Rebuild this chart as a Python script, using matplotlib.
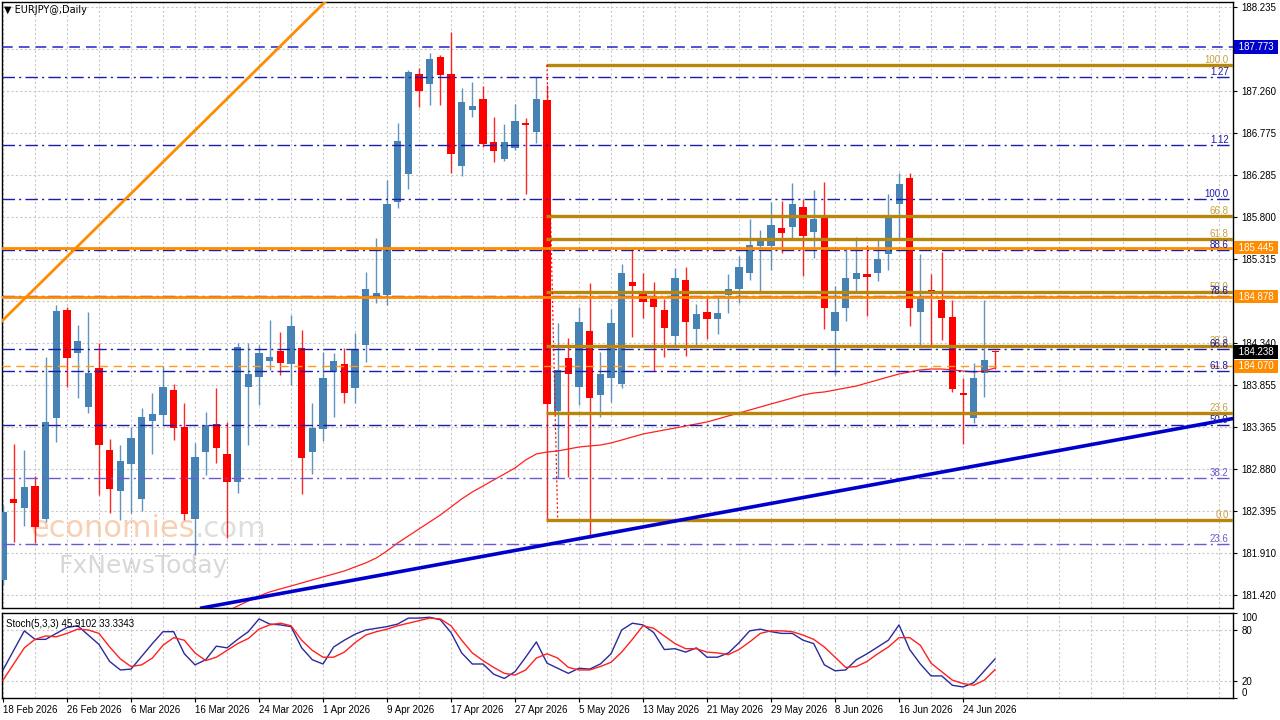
import matplotlib
matplotlib.use("Agg")
import matplotlib.pyplot as plt
import matplotlib.transforms as mtransforms
import numpy as np
import pandas as pd

plt.rcParams['font.family'] = ['Liberation Sans', 'DejaVu Sans']

# daily bars, 18 Feb 2026 .. 29 Jun 2026
dates = pd.bdate_range('2026-02-18', '2026-06-29')

opens = [181.594, 182.533, 182.428, 182.683, 182.301, 183.471, 184.723, 184.225, 183.599, 184.051,
         183.100, 182.625, 182.938, 182.533, 183.437, 183.506, 183.796, 183.367, 182.301, 183.077,
         183.402, 183.054, 182.730, 183.831, 183.947, 184.132, 184.248, 184.097, 184.283, 183.077,
         183.344, 184.005, 184.097, 183.819, 184.317, 184.885, 184.897, 185.975, 186.299, 187.458,
         187.342, 187.655, 187.458, 186.392, 187.041, 187.169, 186.670, 186.473, 186.601, 186.890,
         186.786, 187.157, 183.553, 184.167, 183.831, 184.480, 183.738, 183.935, 183.865, 185.048,
         184.909, 184.862, 184.723, 184.422, 185.071, 184.503, 184.700, 184.619, 184.897, 184.966,
         185.152, 185.465, 185.465, 185.673, 185.685, 185.917, 185.627, 185.801, 184.480, 184.746,
         185.082, 185.140, 185.152, 185.372, 185.952, 186.253, 184.700, 184.955, 184.839, 184.642,
         183.761, 183.471, 183.993, 184.248]
highs = [182.463, 183.170, 183.100, 182.799, 184.178, 184.781, 184.758, 184.549, 184.700, 184.341,
         183.228, 183.158, 183.367, 183.587, 183.761, 184.074, 183.865, 183.645, 183.182, 183.541,
         183.819, 183.425, 184.341, 184.341, 184.317, 184.607, 184.468, 184.665, 184.491, 183.645,
         184.236, 184.225, 184.283, 184.457, 185.164, 185.558, 186.230, 186.890, 187.505, 187.528,
         187.702, 187.679, 187.945, 187.296, 187.366, 187.319, 186.960, 186.879, 187.111, 186.948,
         187.424, 187.331, 184.572, 184.399, 184.758, 185.036, 184.236, 184.735, 185.256, 185.442,
         185.152, 185.048, 184.851, 185.210, 185.221, 184.793, 184.862, 184.874, 185.140, 185.349,
         185.778, 185.650, 185.975, 185.986, 186.195, 186.010, 186.114, 186.207, 185.001, 185.442,
         185.569, 185.476, 185.534, 186.068, 186.311, 186.311, 185.372, 185.140, 185.395, 184.839,
         183.935, 184.109, 184.839, 184.248]
lows = [181.536, 182.034, 182.220, 182.023, 182.266, 183.193, 183.831, 183.703, 183.529, 182.579,
        182.370, 182.289, 182.370, 182.394, 183.054, 183.390, 183.216, 182.289, 181.884, 182.811,
        182.950, 182.081, 182.602, 183.158, 183.622, 184.028, 183.970, 183.854, 182.591, 182.822,
        183.205, 183.483, 183.645, 183.645, 184.120, 184.804, 184.781, 185.905, 186.125, 187.076,
        187.099, 187.099, 186.311, 186.276, 186.960, 186.612, 186.438, 186.450, 186.577, 186.068,
        186.659, 182.289, 182.776, 182.788, 183.622, 182.081, 183.483, 183.657, 183.819, 184.410,
        184.630, 184.016, 184.178, 184.317, 184.190, 184.317, 184.387, 184.445, 184.688, 184.804,
        185.071, 184.932, 185.187, 185.384, 185.558, 185.117, 185.326, 184.503, 183.970, 184.596,
        184.932, 184.654, 185.059, 185.187, 185.558, 184.538, 184.317, 184.317, 184.375, 183.773,
        183.170, 183.413, 183.715, 184.039]
closes = [182.382, 182.486, 182.672, 182.208, 183.425, 184.712, 184.167, 184.364, 183.993, 183.158,
          182.648, 182.973, 183.240, 183.483, 183.518, 183.831, 183.355, 182.359, 183.019, 183.390,
          183.124, 182.730, 184.294, 183.981, 184.225, 184.178, 184.109, 184.538, 183.008, 183.355,
          183.935, 184.132, 183.761, 184.259, 184.966, 184.920, 185.952, 186.682, 187.482, 187.261,
          187.632, 187.447, 186.531, 187.134, 187.087, 186.647, 186.566, 186.670, 186.914, 186.867,
          187.169, 183.634, 184.028, 183.981, 184.584, 183.703, 183.981, 184.572, 185.152, 185.001,
          184.816, 184.758, 184.514, 185.094, 184.584, 184.677, 184.619, 184.688, 184.966, 185.221,
          185.476, 185.534, 185.708, 185.616, 185.952, 185.581, 185.778, 184.746, 184.700, 185.094,
          185.152, 185.106, 185.314, 185.789, 186.183, 184.746, 184.874, 184.932, 184.630, 183.807,
          183.738, 183.935, 184.144, 184.238]

# long moving average, visible from bar 21 on
ma_start = 21
ma_vals = [181.230, 181.292, 181.350, 181.408, 181.455, 181.490, 181.524, 181.559, 181.594, 181.629,
           181.663, 181.698, 181.745, 181.791, 181.849, 181.930, 182.023, 182.104, 182.185, 182.266,
           182.347, 182.440, 182.533, 182.614, 182.683, 182.753, 182.822, 182.892, 182.985, 183.054,
           183.077, 183.089, 183.112, 183.135, 183.147, 183.158, 183.182, 183.216, 183.251, 183.286,
           183.309, 183.332, 183.355, 183.379, 183.402, 183.425, 183.460, 183.495, 183.529, 183.564,
           183.599, 183.634, 183.668, 183.703, 183.738, 183.761, 183.773, 183.796, 183.819, 183.842,
           183.877, 183.912, 183.947, 183.981, 184.005, 184.028, 184.039, 184.039, 184.028, 184.016,
           184.005, 184.016, 184.051]

stoch_k = [33, 56, 79, 69, 69, 76, 83, 85, 74, 63,
           43, 33, 34, 49, 64, 78, 78, 52, 39, 45,
           61, 59, 69, 78, 93, 87, 86, 84, 59, 45,
           40, 60, 68, 75, 80, 82, 84, 87, 94, 94,
           95, 92, 77, 53, 40, 40, 28, 23, 31, 48,
           66, 41, 35, 29, 35, 34, 40, 52, 80, 88,
           86, 77, 57, 58, 54, 59, 48, 48, 53, 65,
           79, 81, 78, 76, 76, 68, 64, 39, 32, 33,
           45, 52, 60, 68, 86, 57, 40, 26, 26, 15,
           13, 18, 32, 45.9102]
stoch_d = [21, 40, 59, 69, 73, 72, 76, 81, 80, 76,
           60, 46, 37, 39, 47, 62, 71, 68, 53, 44,
           48, 56, 64, 70, 81, 86, 88, 85, 68, 56,
           48, 48, 54, 65, 74, 78, 81, 85, 88, 91,
           94, 93, 85, 68, 53, 44, 36, 29, 27, 33,
           47, 52, 47, 36, 33, 33, 37, 42, 54, 69,
           85, 82, 73, 64, 58, 58, 54, 53, 51, 57,
           66, 76, 79, 79, 78, 74, 69, 60, 48, 36,
           37, 43, 52, 60, 71, 71, 62, 41, 31, 21,
           17, 15, 21, 33.3343]

price_ticks = [188.235, 187.750, 187.260, 186.775, 186.285, 185.800, 185.315, 184.825,
               184.340, 183.855, 183.365, 182.880, 182.395, 181.910, 181.420]
hidden_ticks = [187.750, 184.825]   # covered by the price boxes in the terminal

# blue fibonacci (retracement + extension)
bfib_lo, bfib_hi = 180.78, 186.01
bfib_levels = [23.6, 38.2, 50.0, 61.8, 66.8, 78.6, 88.6, 100.0, 112.0, 127.0]
bfib_labels = ['23.6', '38.2', '50.0', '61.8', '66.8', '78.6', '88.6', '100.0', '1.12', '1.27']

# gold fibonacci drawn from the big April drop
gfib_lo, gfib_hi = 182.289, 187.563
gfib_start = 51
gfib_levels = [0.0, 23.6, 38.2, 50.0, 61.8, 66.8, 100.0]

orange_levels = [185.445, 184.878]
orange_dashed = 184.070
blue_dashed = 187.773
last_price = 184.238

# trendlines (two anchor points each: bar, price)
orange_trend = [(0, 184.607), (30, 188.270)]
blue_trend = [(20, 181.300), (90, 182.890)]

# ---------------------------------------------------------------
W, H = 1280, 720
fig = plt.figure(figsize=(12.8, 7.2), dpi=100, facecolor='white')
ax = fig.add_axes([2 / W, 1 - 608 / H, 1231 / W, 606 / H])
ax2 = fig.add_axes([2 / W, 1 - 698 / H, 1231 / W, 85 / H])

idx = np.arange(len(dates))
o, h, l, c = map(np.array, (opens, highs, lows, closes))
up = c > o
col = np.where(up, '#4682b4', '#ff0000')
xmin, xmax = -0.094, 115.31

for a in (ax, ax2):
    a.set_xlim(xmin, xmax)
    for s in a.spines.values():
        s.set_color('black')
        s.set_linewidth(1)
    a.vlines(np.arange(0, 116, 3), 0, 1, transform=a.get_xaxis_transform(),
             colors='#c8c8c8', linestyles=(0, (2, 2)), lw=0.8, zorder=0)

ax.set_ylim(181.269, 188.293)
ax.yaxis.tick_right()
ax.set_yticks(price_ticks)
ax.set_yticklabels(['' if p in hidden_ticks else f'{p:.3f}' for p in price_ticks])
ax.tick_params(axis='y', labelsize=7, length=3, pad=3, colors='black')
ax.tick_params(axis='x', bottom=False, labelbottom=False)
for p in price_ticks:
    ax.axhline(p, color='#c8c8c8', ls=(0, (2, 2)), lw=0.8, zorder=0)

# candles
ax.vlines(idx, l, h, colors=col, lw=1, zorder=3, alpha=0.85)
body = np.maximum(np.abs(c - o), 0.014)
ax.bar(idx, body, bottom=np.minimum(o, c), width=0.66, color=col, lw=0, zorder=4)

# moving average
ax.plot(np.arange(ma_start, ma_start + len(ma_vals)), ma_vals, color='#ff2020', lw=0.9, zorder=5)

# blue fib levels
for lv, lab in zip(bfib_levels, bfib_labels):
    p = bfib_lo + (bfib_hi - bfib_lo) * lv / 100
    cc = '#6a5acd' if lv < 50 else '#1c1caa'
    ax.axhline(p, color=cc, lw=1, ls=(0, (9, 3, 1.5, 3)), zorder=6)
    ax.text(114.9, p, lab, color=cc, fontsize=7, ha='right', va='bottom', zorder=9)

ax.axhline(blue_dashed, color='#2222cc', lw=1.1, ls=(0, (7, 4)), zorder=6)

# gold fib levels
for lv in gfib_levels:
    p = gfib_lo + (gfib_hi - gfib_lo) * lv / 100
    ax.hlines(p, gfib_start - 0.05, xmax, color='#b8860b', lw=2.4, zorder=7)
    ax.text(114.9, p, f'{lv:.1f}', color='#c8a040', fontsize=7, ha='right', va='bottom', zorder=8)
ax.plot([gfib_start, gfib_start + 1], [gfib_hi, gfib_lo],
        color='#ff0000', lw=0.9, ls=(0, (1.5, 2)), zorder=7)

# orange levels
for p in orange_levels:
    ax.axhline(p, color='#ff8c00', lw=2, zorder=7)
ax.axhline(orange_dashed, color='#ff9a1a', lw=1, ls=(0, (6, 4)), zorder=6)

# trendlines
ax.axline(orange_trend[0], orange_trend[1], color='#ff8c00', lw=2, zorder=7)
ax.axline(blue_trend[0], blue_trend[1], color='#0000cd', lw=2.6, zorder=7)

# price boxes on the right axis
trans = mtransforms.blended_transform_factory(ax.transAxes, ax.transData)
for p, fc in [(blue_dashed, '#0000cd'), (orange_levels[0], '#ff8c00'), (orange_levels[1], '#ff8c00'),
              (orange_dashed, '#ff8c00'), (last_price, '#000000')]:
    ax.text(1.0025, p, f' {p:.3f} ', transform=trans, color='white', fontsize=7, ha='left',
            va='center', clip_on=False, zorder=20,
            bbox=dict(boxstyle='square,pad=0.18', fc=fc, ec='none'))

ax.text(0.002, 0.995, '\u25bc EURJPY@,Daily', transform=ax.transAxes, fontsize=7,
        va='top', ha='left', family=['DejaVu Sans'])

# watermark
t1 = ax.text(0.0227, 0.132, 'economies', transform=ax.transAxes, fontsize=22,
             color='#f7c4a0', alpha=0.8, va='center', ha='left', family=['DejaVu Sans'], zorder=2)
ax.annotate('.com', xy=(1, 0), xycoords=t1, fontsize=21, color='#d9d9d9', alpha=0.85,
            va='bottom', ha='left', family=['DejaVu Sans'], zorder=2)
ax.text(0.0455, 0.069, 'FxNewsToday', transform=ax.transAxes, fontsize=18,
        color='#d4d4d4', alpha=0.9, va='center', ha='left', family=['DejaVu Sans'], zorder=2)

# stochastic panel
ax2.set_ylim(0, 100)
ax2.axhline(80, color='#c8c8c8', ls=(0, (2, 2)), lw=0.8, zorder=0)
ax2.axhline(20, color='#c8c8c8', ls=(0, (2, 2)), lw=0.8, zorder=0)
ax2.plot(idx, stoch_k, color='#2a2a9e', lw=1, zorder=3)
ax2.plot(idx, stoch_d, color='#ff2020', lw=1, zorder=3)
ax2.yaxis.tick_right()
ax2.set_yticks([0, 20, 80, 100])
ax2.set_yticklabels(['0', '20', '80', '100'])
ax2.tick_params(axis='y', labelsize=7, length=3, pad=3)
for lab in ax2.get_yticklabels():
    if lab.get_text() == '100':
        lab.set_va('top')
    elif lab.get_text() == '0':
        lab.set_va('bottom')
ax2.text(0.003, 0.93, 'Stoch(5,3,3) 45.9102 33.3343', transform=ax2.transAxes,
         fontsize=7, va='top', ha='left')

tick_idx = idx[::6]
ax2.set_xticks(tick_idx)
ax2.set_xticklabels([f'{d.day} {d.strftime("%b %Y")}' for d in dates[tick_idx]], ha='left')
ax2.tick_params(axis='x', labelsize=7, length=3, pad=2)

fig.savefig('out.png', dpi=100, facecolor='white')
